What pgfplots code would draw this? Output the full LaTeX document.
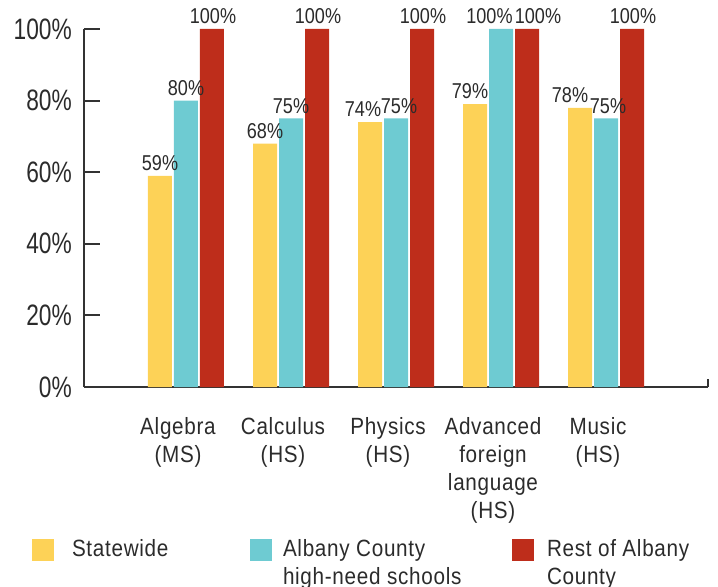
\documentclass[border=0pt]{standalone}
\usepackage{pgfplots}
\usepackage{pgfplotstable}
\pgfplotsset{compat=1.18}
\usepackage{fontspec}
\setmainfont{Liberation Sans}
\newfontfamily\tickfont[FakeStretch=0.77]{Liberation Sans}
\newfontfamily\barfont[FakeStretch=0.84]{Liberation Sans}
\newfontfamily\catfont[FakeStretch=0.88,LetterSpace=3]{Liberation Sans}
\definecolor{cyel}{HTML}{FDD257}
\definecolor{cteal}{HTML}{6ECBD2}
\definecolor{cred}{HTML}{BE2D1B}
\definecolor{ctext}{HTML}{2B2B2B}
\definecolor{caxis}{HTML}{333333}
\pgfplotstableread{
x y dx
0 59 0
1 68 0
2 74 -7
3 79 -5
4 78 -10
}\statewide
\pgfplotstableread{
x y dx
0 80 0
1 75 0
2 75 3
3 100 -11.5
4 75 2
}\highneed
\pgfplotstableread{
x y dx
0 100 1
1 100 1
2 100 1
3 100 11
4 100 1
}\rest
\begin{document}
\begin{tikzpicture}
\begin{axis}[
  scale only axis, width=624bp, height=358bp,
  xmin=-0.9714, xmax=4.9714, ymin=0, ymax=100,
  ybar=2bp, bar width=24bp,
  axis lines*=left,
  x axis line style={line width=2bp, color=caxis},
  y axis line style={line width=2.5bp, color=caxis},
  xtick={0,1,2,3,4},
  xticklabels={{Algebra\\(MS)},{Calculus\\(HS)},{Physics\\(HS)},{Advanced\\foreign\\language\\(HS)},{Music\\(HS)}},
  x tick style={draw=none},
  ytick={0,20,40,60,80,100},
  y tick style={line width=2bp, color=caxis},
  tick align=inside,
  major tick length=16bp,
  /pgf/number format/assume math mode=true,
  yticklabel={\pgfmathprintnumber{\tick}\%},
  yticklabel style={font=\tickfont\fontsize{29.5bp}{34bp}\selectfont, text=ctext, inner sep=0pt, anchor=east, xshift=-12bp},
  xticklabel style={font=\catfont\fontsize{23.5bp}{28bp}\selectfont, text=ctext, align=center, inner sep=0pt, anchor=north, yshift=-30bp, xshift=-8bp},
  visualization depends on={\thisrow{dx} \as \labdx},
  nodes near coords={\pgfmathprintnumber{\pgfplotspointmeta}\%},
  every node near coord/.append style={font=\barfont\fontsize{21.5bp}{25bp}\selectfont, text=ctext, inner sep=0pt, yshift=5bp, xshift=\labdx bp},
  clip=false,
  legend columns=3,
  legend image code/.code={\fill[#1] (0bp,0bp) rectangle (22bp,-22bp);},
  legend cell align=left,
  legend style={draw=none, fill=none, inner sep=0pt, outer sep=0pt,
    at={(axis description cs:-0.08333,-0.42458)}, anchor=north west,
    column sep=0pt, font=\catfont\fontsize{23.5bp}{28bp}\selectfont, text=ctext,
    nodes={inner sep=0pt}, cells={anchor=north west}},
]
\addplot[fill=cyel, draw=none] table[x=x, y=y] {\statewide};
\addlegendentry{\parbox[t]{196bp}{\raggedright\leftskip=18bp Statewide}}
\addplot[fill=cteal, draw=none] table[x=x, y=y] {\highneed};
\addlegendentry{\parbox[t]{240bp}{\raggedright\leftskip=11bp Albany County\\high-need schools}}
\addplot[fill=cred, draw=none] table[x=x, y=y] {\rest};
\addlegendentry{\parbox[t]{160bp}{\raggedright\leftskip=13bp Rest of Albany\\County}}
\draw[line width=2bp, caxis] (rel axis cs:1,0) -- ([yshift=8bp]rel axis cs:1,0);
\end{axis}
\pgfresetboundingbox
\path[use as bounding box] (-84bp,-200bp) rectangle (634bp,387bp);
\end{tikzpicture}
\end{document}
